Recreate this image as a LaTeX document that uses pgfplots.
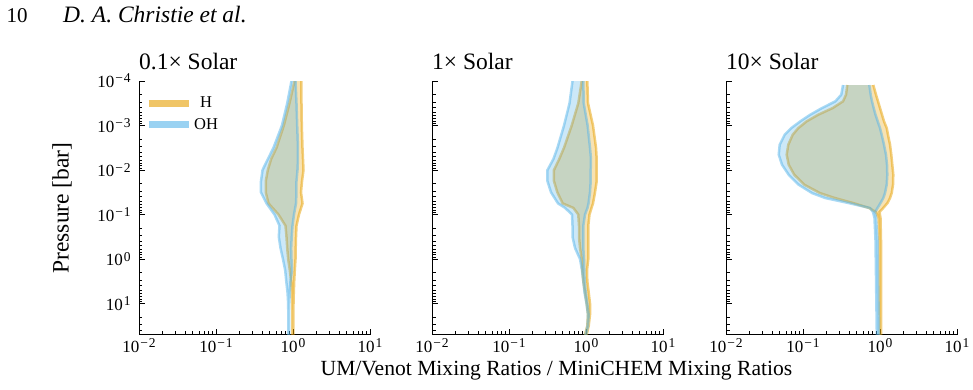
\documentclass[border=0pt]{standalone}
\usepackage{fontspec}
\setmainfont{Liberation Serif}
\usepackage{pgfplots}
\pgfplotsset{compat=1.18}
\usepackage{pgfplotstable}

\definecolor{Hcol}{HTML}{E69F00}
\definecolor{OHcol}{HTML}{56B4E9}

% power-of-ten tick label set in the text font
\newcommand{\tp}[1]{10\kern1pt\raisebox{4.8pt}{\fontsize{13.5}{13.5}\selectfont #1}}
\newcommand{\mn}{−\kern1pt}

% Envelopes of the mixing-ratio ratio: down the minimum, back up the maximum.
% columns: r = ratio, p = pressure [bar]
\pgfplotstableread{
r      p
1.046  1e-4
0.901  3.16e-4
0.760  1e-3
0.611  3.16e-3
0.521  5.62e-3
0.471  1e-2
0.443  1.78e-2
0.443  3.16e-2
0.481  5.62e-2
0.648  0.1
0.799  0.178
0.823  0.316
0.841  0.562
0.866  1
0.909  1.78
0.947  3.16
0.965  5.62
0.976  10
0.985  50
1.009  50
1.015  10
1.024  5.62
1.037  3.16
1.055  1.78
1.078  1
1.084  0.562
1.094  0.316
1.110  0.178
1.196  0.1
1.330  5.62e-2
1.270  3.16e-2
1.310  1.78e-2
1.369  1e-2
1.348  5.62e-3
1.328  3.16e-3
1.301  1e-3
1.289  3.16e-4
1.289  1e-4
}\lowH

\pgfplotstableread{
r      p
0.956  1e-4
0.841  3.16e-4
0.718  1e-3
0.558  3.16e-3
0.473  5.62e-3
0.402  1e-2
0.384  1.78e-2
0.384  3.16e-2
0.453  5.62e-2
0.575  0.1
0.668  0.178
0.654  0.316
0.688  0.562
0.741  1
0.792  1.78
0.818  3.16
0.849  5.62
0.866  10
0.874  50
0.890  50
0.893  10
0.909  5.62
0.928  3.16
0.971  1.78
0.956  1
0.947  0.562
0.962  0.316
0.985  0.178
1.030  0.1
1.094  5.62e-2
1.110  3.16e-2
1.110  1.78e-2
1.144  1e-2
1.161  5.62e-3
1.161  3.16e-3
1.134  1e-3
1.110  3.16e-4
1.078  1e-4
}\lowOH

\pgfplotstableread{
r      p
0.880  1e-4
0.794  3.16e-4
0.652  1e-3
0.518  3.16e-3
0.450  5.62e-3
0.384  1e-2
0.384  1.78e-2
0.424  3.16e-2
0.498  5.62e-2
0.684  7.08e-2
0.794  0.1
0.811  0.178
0.811  0.316
0.836  0.562
0.880  1
0.895  1.78
0.923  3.16
0.971  5.62
1.021  10
1.062  17.8
1.040  31.6
0.971  50
1.021  50
1.084  31.6
1.127  17.8
1.127  10
1.084  5.62
1.040  3.16
1.030  1.78
1.071  1
1.071  0.562
1.071  0.316
1.071  0.178
1.110  0.1
1.180  7.08e-2
1.233  5.62e-2
1.309  3.16e-2
1.377  1.78e-2
1.377  1e-2
1.377  5.62e-3
1.349  3.16e-3
1.233  1e-3
1.062  3.16e-4
1.040  1e-4
}\solH

\pgfplotstableread{
r      p
0.668  1e-4
0.611  3.16e-4
0.518  1e-3
0.426  3.16e-3
0.378  5.62e-3
0.316  1e-2
0.316  1.78e-2
0.351  3.16e-2
0.433  5.62e-2
0.534  7.08e-2
0.658  0.1
0.668  0.178
0.668  0.316
0.720  0.562
0.836  1
0.887  1.78
0.923  3.16
0.956  5.62
1.015  10
1.062  17.8
1.046  31.6
0.985  50
1.000  50
1.062  31.6
1.084  17.8
1.040  10
0.991  5.62
0.960  3.16
0.950  1.78
0.942  1
0.923  0.562
0.923  0.316
0.923  0.178
0.971  0.1
1.046  7.08e-2
1.078  5.62e-2
1.127  3.16e-2
1.151  1.78e-2
1.151  1e-2
1.161  5.62e-3
1.127  3.16e-3
1.050  1e-3
0.934  3.16e-4
0.923  1e-4
}\solOH

\pgfplotstableread{
r       p
0.376   1.23e-4
0.362   2.03e-4
0.331   2.86e-4
0.243   4.05e-4
0.158   5.71e-4
0.1117  8.05e-4
0.0869  1.14e-3
0.0735  1.61e-3
0.0644  2.70e-3
0.0614  4.53e-3
0.0652  7.60e-3
0.0771  1.28e-2
0.104   2.14e-2
0.166   3.29e-2
0.260   4.26e-2
0.450   5.52e-2
0.726   7.14e-2
0.887   8.79e-2
0.956   0.12
0.985   0.374
0.994   50
1.036   50
1.030   0.374
1.015   0.12
0.985   8.79e-2
1.100   7.14e-2
1.250   5.52e-2
1.349   4.26e-2
1.419   3.29e-2
1.475   2.14e-2
1.488   1.28e-2
1.444   7.60e-3
1.402   4.53e-3
1.349   2.70e-3
1.270   1.61e-3
1.222   1.14e-3
1.127   8.05e-4
1.062   5.71e-4
1.000   4.05e-4
0.942   2.86e-4
0.887   2.03e-4
0.818   1.23e-4
}\highH

\pgfplotstableread{
r       p
0.331   1.23e-4
0.314   2.03e-4
0.263   2.86e-4
0.1765  4.05e-4
0.1244  5.71e-4
0.0923  8.05e-4
0.0705  1.14e-3
0.0578  1.61e-3
0.0498  2.70e-3
0.0484  4.53e-3
0.0534  7.60e-3
0.0652  1.28e-2
0.088   2.14e-2
0.131   3.29e-2
0.195   4.26e-2
0.392   5.52e-2
0.742   7.14e-2
0.811   8.79e-2
0.848   0.12
0.874   0.374
0.909   50
0.971   50
0.928   0.374
0.887   0.12
0.861   8.79e-2
0.928   7.14e-2
1.015   5.52e-2
1.104   4.26e-2
1.161   3.29e-2
1.222   2.14e-2
1.244   1.28e-2
1.233   7.60e-3
1.196   4.53e-3
1.127   2.70e-3
1.052   1.61e-3
1.000   1.14e-3
0.934   8.05e-4
0.874   5.71e-4
0.828   4.05e-4
0.787   2.86e-4
0.757   2.03e-4
0.726   1.23e-4
}\highOH

% shaded envelope with a soft outline: table, colour
\newcommand{\envelope}[2]{%
  \addplot[fill=#2, fill opacity=0.3, draw=none, forget plot] table[x=r, y=p] {#1};
  \addplot[#2, line width=2.5pt, opacity=0.5, forget plot] table[x=r, y=p] {#1};
}

\begin{document}
\begin{tikzpicture}
\pgfplotsset{every axis/.append style={
    scale only axis, width=231pt, height=253.7pt,
    xmin=1e-2, xmax=10, ymin=1e-4, ymax=50,
    y dir=reverse,
    axis x line*=bottom, axis y line*=left,
    tick align=inside,
    xtick={1e-2,1e-1,1,10},
    xticklabels={\tp{\mn2},\tp{\mn1},\tp{0},\tp{1}},
    minor xtick={0.02,0.03,0.04,0.05,0.06,0.07,0.08,0.09,0.2,0.3,0.4,0.5,0.6,0.7,0.8,0.9,2,3,4,5,6,7,8,9},
    ytick={1e-4,1e-3,1e-2,1e-1,1,10},
    minor ytick={2e-4,3e-4,4e-4,5e-4,6e-4,7e-4,8e-4,9e-4,
                 2e-3,3e-3,4e-3,5e-3,6e-3,7e-3,8e-3,9e-3,
                 0.02,0.03,0.04,0.05,0.06,0.07,0.08,0.09,
                 0.2,0.3,0.4,0.5,0.6,0.7,0.8,0.9,
                 2,3,4,5,6,7,8,9,20,30,40,50},
    major tick length=6pt, minor tick length=3.5pt,
    tick style={black, line width=0.8pt},
    axis line style={black, line width=1pt},
    tick label style={font=\fontsize{17}{17}\selectfont},
    yticklabel style={xshift=-4.8pt},
    xticklabel style={yshift=-0.5pt},
    title style={at={(0,1)}, anchor=base west, inner sep=0pt, yshift=6pt,
                 font=\fontsize{23.5}{23.5}\selectfont},
}}
\path[use as bounding box] (0pt,0pt) rectangle (973pt,389pt);

\node[anchor=base west, inner sep=0pt, font=\fontsize{21}{21}\selectfont] at (6.5pt,366.3pt) {10};
\node[anchor=base west, inner sep=0pt, font=\fontsize{23.5}{23.5}\selectfont\itshape] at (63pt,366.3pt) {D. A. Christie et al.};

\begin{loglogaxis}[at={(139pt,54.3pt)}, anchor=south west, title={0.1× Solar},
  yticklabels={\tp{\mn4},\tp{\mn3},\tp{\mn2},\tp{\mn1},\tp{0},\tp{1}},
  legend image code/.code={\draw[#1] (0pt,0pt) -- (40pt,0pt);},
  legend style={draw=none, fill=none, at={(0.013,0.954)}, anchor=north west,
                font=\fontsize{16.5}{16.5}\selectfont, row sep=5pt}]
  \envelope{\lowH}{Hcol}
  \envelope{\lowOH}{OHcol}
  \addlegendimage{Hcol, opacity=0.6, line width=7pt}
  \addlegendentry{H}
  \addlegendimage{OHcol, opacity=0.6, line width=7pt}
  \addlegendentry{OH}
\end{loglogaxis}

\begin{loglogaxis}[at={(432pt,54.3pt)}, anchor=south west, title={1× Solar}, yticklabels={}]
  \envelope{\solH}{Hcol}
  \envelope{\solOH}{OHcol}
\end{loglogaxis}

\begin{loglogaxis}[at={(726pt,54.3pt)}, anchor=south west, title={10× Solar}, yticklabels={}]
  \envelope{\highH}{Hcol}
  \envelope{\highOH}{OHcol}
\end{loglogaxis}

\node[anchor=base, inner sep=0pt, font=\fontsize{21.6}{21.6}\selectfont] at (556.5pt,14pt)
  {UM/Venot Mixing Ratios / MiniCHEM Mixing Ratios};
\node[rotate=90, inner sep=0pt, font=\fontsize{23.5}{23.5}\selectfont] at (62pt,181pt) {Pressure [bar]};
\end{tikzpicture}
\end{document}
